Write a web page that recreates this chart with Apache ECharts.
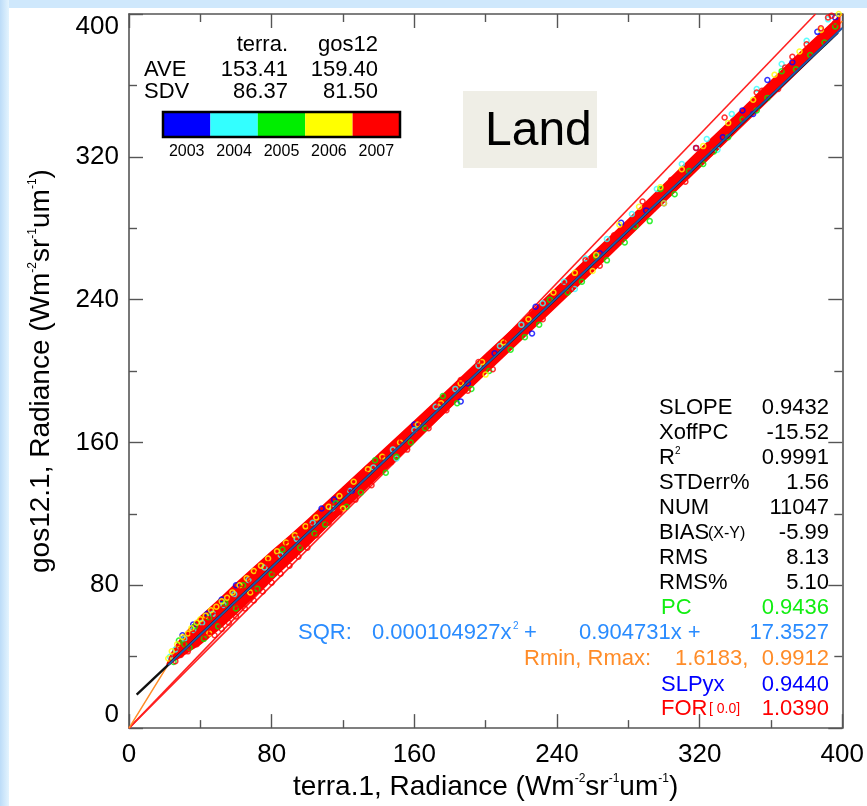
<!DOCTYPE html>
<html><head><meta charset="utf-8">
<script src="https://cdn.jsdelivr.net/npm/echarts@6/dist/echarts.min.js"></script>
<style>
html,body{margin:0;padding:0;background:#fff;}
#topband{position:absolute;left:0;top:0;width:867px;height:8px;background:#cfe8fc;}
#leftband{position:absolute;left:0;top:0;width:9px;height:806px;background:linear-gradient(to right,#bcdcf8,#e4f4fe);}
#chart{position:absolute;left:0;top:0;width:867px;height:806px;}
</style></head>
<body>
<div id="topband"></div><div id="leftband"></div>
<div id="chart"></div>
<script>
// ---------- data ----------
const years = ['2003', '2004', '2005', '2006', '2007'];
const axisTicks = [0, 80, 160, 240, 320, 400];

// dense core of the scatter cloud (lower / upper edge of the solid band)
const bandX    = [21, 23, 25, 30, 35, 40, 50, 60, 70, 80, 90, 100, 120, 140, 160, 180, 200, 220, 240, 260, 280, 300, 320, 340, 360, 380, 399];
const bandLow  = [34.5, 35.5, 37, 40, 43.5, 46.5, 54.5, 63.5, 73, 82.5, 92, 101.5, 121, 140.5, 159.5, 179, 198, 217, 236, 255, 274.5, 294, 313.5, 333, 352.5, 372, 391];
const bandHigh = [36, 41, 45, 52, 57.5, 63, 72, 81.5, 90.5, 99.5, 108, 117, 135.5, 154, 172.5, 191, 210, 228.5, 247.5, 266.5, 285.5, 305, 324.5, 343.5, 363, 382.5, 400];

const pts2003 = [[30,52],[36,58],[44,64],[52,72],[60,80],[108,123],[115,128],[125,133],[160,170],[190,193],[205,210],[228,236],[264,266],[276,283],[290,290],[318,325],[333,331],[344,346],[358,363],[372,373],[386,390],[396,398],[186,183],[226,221],[300,294],[350,344]];
const pts2004 = [[23,40],[26,44],[31,50],[36,55],[41,59],[47,64],[53,69],[59,75],[67,83],[76,90],[85,97],[94,106],[103,115],[114,123],[124,133],[137,146],[148,156],[160,167],[172,180],[183,190],[196,203],[208,214],[220,226],[232,238],[244,250],[256,263],[268,274],[282,288],[296,302],[310,316],[324,330],[338,344],[352,358],[366,372],[380,385],[392,397],[150,151],[250,246],[330,324]];
const pts2005 = [[25,37],[28,49],[31,47],[34,45],[37,57],[42,50],[45,62],[50,57],[54,70],[60,67],[64,80],[72,78],[80,86],[86,100],[96,101],[104,109],[110,114],[116,126],[122,124],[130,132],[138,150],[144,143],[150,152],[158,160],[166,168],[176,186],[184,182],[192,190],[202,200],[214,212],[222,219],[230,226],[236,240],[246,244],[254,250],[262,264],[268,262],[278,272],[284,281],[292,284],[298,302],[306,299],[314,312],[322,316],[328,323],[336,331],[344,341],[352,346],[358,353],[366,368],[374,369],[382,377],[390,384],[396,393]];
const pts2006 = [[22,39],[24,43],[27,47],[30,51],[33,53],[35,56],[38,59],[40,61],[43,63],[46,66],[49,68],[52,71],[55,73],[58,76],[62,80],[66,84],[70,88],[74,91],[78,95],[83,99],[88,104],[93,108],[99,113],[105,118],[112,124],[118,130],[126,138],[134,145],[142,152],[152,160],[162,170],[175,182],[186,193],[198,205],[210,216],[224,229],[238,244],[250,255],[262,265],[275,282],[286,292],[298,303],[310,313],[322,326],[336,339],[350,352],[362,366],[376,379],[388,391],[398,400],[45,53],[68,76],[120,123],[200,198],[260,256],[300,294]];
const pts2007 = [[24,39],[26,37.5],[28,45],[29,41],[32,47],[33,43],[36,53],[38,47],[41,56],[43,51],[44,61],[46,54],[48,63],[52,59],[53,67],[56,64],[58,72],[61,69],[63,78],[66,72],[68,83],[71,77],[73,87],[76,81],[78,92],[82,87],[84,96],[87,93],[89,103],[93,97],[95,107],[98,103],[102,113],[105,108],[108,119],[112,115],[115,124],[118,121],[124,134],[127,128],[133,142],[136,136],[143,151],[147,149],[153,161],[156,156],[164,171],[168,168],[174,181],[178,178],[186,195],[190,189],[196,205],[204,201],[212,217],[216,216],[226,233],[232,229],[244,248],[248,246],[256,262],[264,259],[272,276],[276,274],[288,295],[294,291],[304,307],[312,306],[318,325],[326,322],[334,342],[346,343],[352,356],[364,358],[372,376],[384,381],[392,398],[396,395],[48,52],[52,55.5],[56,59],[60,62.5],[65,67],[70,71.5],[75,76.5],[80,81.5],[85,86.5],[90,91],[95,96],[100,101],[355,357],[368,370],[380,383],[388,392],[394,399]];

// fitted / reference lines (end points)
const lineOneToOne = [[0,0],[400,400]];
const lineFOR      = [[0,0],[385,400]];
const lineFit      = [[4.3,18.7],[397.5,389.5]];
const lineSLPyx    = [[22,35.3],[400,392.2]];
const lineRmin     = [[0,0],[21.5,34.8],[40,53.7],[100,108.9],[200,202.5],[300,298.2],[400,396]];

// statistics text
const colHeads = ['terra.', 'gos12'];
const aveVals = ['153.41', '159.40'];
const sdvVals = ['86.37', '81.50'];
const statNames = ['SLOPE', 'XoffPC', 'R', 'STDerr%', 'NUM', 'BIAS', 'RMS', 'RMS%'];
const statVals  = ['0.9432', '-15.52', '0.9991', '1.56', '11047', '-5.99', '8.13', '5.10'];
const pcVal = '0.9436';
const sqrTerms = ['0.000104927x', '0.904731x +', '17.3527'];
const rminVals = ['1.6183,', '0.9912'];
const slpyxVal = '0.9440';
const forVal = '1.0390';

// ---------- styles ----------
const FONT = 'Liberation Sans, Arial, Helvetica, sans-serif';
const yearColors = ['#0000ff', '#33ffff', '#00ee00', '#ffff00', '#ff0000'];
const AX = '#555555';

const chart = echarts.init(document.getElementById('chart'), null, {renderer: 'canvas'});

function axisCommon(extra) {
  return Object.assign({
    type: 'value', min: 0, max: 400, interval: 80,
    axisLine: {show: true, onZero: false, lineStyle: {color: AX, width: 1.6}},
    axisTick: {show: true, inside: true, length: 14, lineStyle: {color: AX, width: 1.4}},
    minorTick: {show: true, splitNumber: 2, length: 8, lineStyle: {color: AX, width: 1.4}},
    splitLine: {show: false}, minorSplitLine: {show: false}
  }, extra);
}
const nameRich = {
  s: {fontSize: 12, fontFamily: FONT, color: '#000', verticalAlign: 'top', lineHeight: 12}
};
const labelStyle = {show: true, fontSize: 26, fontFamily: FONT, color: '#000',
  formatter: v => axisTicks.indexOf(v) >= 0 ? String(v) : ''};

const scatterSeries = [pts2003, pts2004, pts2005, pts2006, pts2007].map((d, i) => ({
  type: 'scatter', name: years[i], data: d, symbol: 'circle', symbolSize: 5,
  itemStyle: {color: 'rgba(0,0,0,0)', borderColor: yearColors[i], borderWidth: 1.5},
  silent: true, z: 3
}));

function lineSeries(data, color, width, z) {
  return {type: 'line', data: data, showSymbol: false, symbol: 'none', silent: true,
    lineStyle: {color: color, width: width}, z: z};
}

const g = [];
function txt(text, x, y, size, color, align, extra) {
  g.push(Object.assign({type: 'text', x: x, y: y, silent: true, z: 100,
    style: {text: text, font: size + 'px ' + FONT, fill: color,
      textAlign: align || 'left', textVerticalAlign: 'middle'}}, extra || {}));
}
// top-left statistics
txt(colHeads[0], 288, 45, 22, '#000', 'right');
txt(colHeads[1], 378, 45, 22, '#000', 'right');
txt('AVE', 144, 70, 22, '#000');
txt(aveVals[0], 288, 70, 22, '#000', 'right');
txt(aveVals[1], 378, 70, 22, '#000', 'right');
txt('SDV', 144, 92, 22, '#000');
txt(sdvVals[0], 288, 92, 22, '#000', 'right');
txt(sdvVals[1], 378, 92, 22, '#000', 'right');
// colour bar
const cbX = 163, cbY = 112, cbW = 237, cbH = 25;
years.forEach((y, i) => {
  g.push({type: 'rect', silent: true, z: 100,
    shape: {x: cbX + i * cbW / 5, y: cbY, width: cbW / 5, height: cbH},
    style: {fill: yearColors[i]}});
  txt(y, cbX + (i + 0.5) * cbW / 5, 152, 16, '#000', 'center');
});
g.push({type: 'rect', silent: true, z: 101, shape: {x: cbX, y: cbY, width: cbW, height: cbH},
  style: {fill: 'none', stroke: '#000', lineWidth: 2.5}});
// Land box
g.push({type: 'rect', silent: true, z: 100, shape: {x: 463, y: 91, width: 134, height: 77},
  style: {fill: '#efeee6'}});
txt('Land', 485, 132, 48, '#000', 'left');
// right statistics block
const rowY0 = 408, rowDY = 25;
statNames.forEach((n, i) => {
  const y = rowY0 + i * rowDY;
  if (n === 'BIAS') {
    txt('BIAS', 659, y, 22, '#000');
    txt('(X-Y)', 708, y + 1, 16, '#000');
  } else if (n === 'R') {
    txt('R', 659, y, 22, '#000');
    txt('2', 675, y - 7, 10, '#000');
  } else {
    txt(n, 659, y, 22, '#000');
  }
  txt(statVals[i], 829, y, 22, '#000', 'right');
});
const yPC = rowY0 + 8 * rowDY;
txt('PC', 661, yPC, 22, '#11ee11');
txt(pcVal, 829, yPC, 22, '#11ee11', 'right');
const ySQR = yPC + 25, cSQR = '#2a8cff';
txt('SQR:', 298, ySQR, 22, cSQR);
txt(sqrTerms[0], 372, ySQR, 22, cSQR);
txt('2', 513, ySQR - 7, 10, cSQR);
txt('+', 524, ySQR, 22, cSQR);
txt(sqrTerms[1], 579, ySQR, 22, cSQR);
txt(sqrTerms[2], 829, ySQR, 22, cSQR, 'right');
const yR = ySQR + 26, cR = '#ff8c28';
txt('Rmin, Rmax:', 524, yR, 22, cR);
txt(rminVals[0], 675, yR, 22, cR);
txt(rminVals[1], 829, yR, 22, cR, 'right');
const yS = yR + 26;
txt('SLPyx', 661, yS, 22, '#0000ff');
txt(slpyxVal, 829, yS, 22, '#0000ff', 'right');
const yF = yS + 24;
txt('FOR', 661, yF, 22, '#ff0000');
txt('[ 0.0]', 709, yF, 14, '#ff0000');
txt(forVal, 829, yF, 22, '#ff0000', 'right');

// dense band drawn as a polygon through the axes' scales
const bandSeries = {
  type: 'custom', silent: true, z: 2, data: [0],
  renderItem: function (params, api) {
    const pts = [];
    for (let i = 0; i < bandX.length; i++) pts.push(api.coord([bandX[i], bandLow[i]]));
    for (let i = bandX.length - 1; i >= 0; i--) pts.push(api.coord([bandX[i], bandHigh[i]]));
    return {type: 'polygon', shape: {points: pts}, style: {fill: '#ff0000'}};
  }
};

const option = {
  animation: false,
  backgroundColor: 'transparent',
  grid: {left: 129, top: 14, width: 716, height: 716, containLabel: false},
  xAxis: [
    axisCommon({position: 'bottom',
      axisLabel: Object.assign({margin: 14}, labelStyle),
      name: 'terra.1, Radiance (Wm{s|-2}sr{s|-1}um{s|-1})', nameLocation: 'middle', nameGap: 44,
      nameTextStyle: {fontSize: 28, fontFamily: FONT, color: '#000', rich: nameRich}}),
    axisCommon({position: 'top', axisLabel: {show: false}})
  ],
  yAxis: [
    axisCommon({position: 'left',
      axisLabel: Object.assign({margin: 10, verticalAlignMinLabel: 'bottom', verticalAlignMaxLabel: 'top'}, labelStyle),
      name: 'gos12.1, Radiance (Wm{s|-2}sr{s|-1}um{s|-1})', nameLocation: 'middle', nameGap: 74,
      nameTextStyle: {fontSize: 28, fontFamily: FONT, color: '#000', rich: nameRich}}),
    axisCommon({position: 'right', axisLabel: {show: false}})
  ],
  graphic: {elements: g},
  series: [
    lineSeries(lineOneToOne, '#ff2020', 1.5, 1),
    lineSeries(lineFOR, '#ff2020', 1.6, 1),
    lineSeries(lineRmin, '#ff8c28', 1.5, 1),
    bandSeries
  ].concat(scatterSeries).concat([
    lineSeries(lineFit, '#101010', 2.4, 4),
    lineSeries(lineSLPyx, '#2356a8', 2, 5)
  ])
};
chart.setOption(option);
</script>
</body></html>
